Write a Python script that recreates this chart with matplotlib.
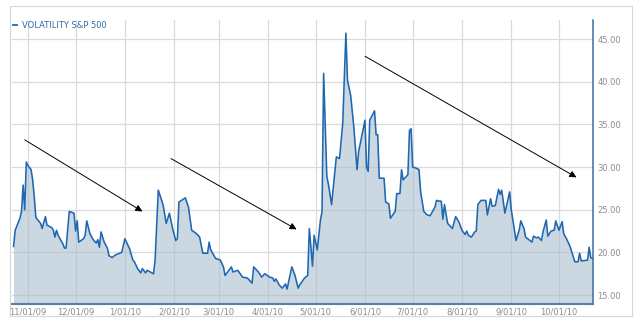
import matplotlib
matplotlib.use("Agg")
import matplotlib.pyplot as plt
import matplotlib.dates as mdates
from matplotlib.lines import Line2D
from matplotlib.patches import Rectangle
import pandas as pd

# VIX closes (approx)
dates = ['2009-10-23', '2009-10-24', '2009-10-27', '2009-10-28', '2009-10-29', '2009-10-30',
         '2009-10-31', '2009-11-01', '2009-11-03', '2009-11-04', '2009-11-05', '2009-11-06',
         '2009-11-09', '2009-11-10', '2009-11-12', '2009-11-13', '2009-11-16', '2009-11-17',
         '2009-11-18', '2009-11-19', '2009-11-20', '2009-11-23', '2009-11-24', '2009-11-25',
         '2009-11-27', '2009-11-30', '2009-12-01', '2009-12-02', '2009-12-03', '2009-12-06',
         '2009-12-07', '2009-12-08', '2009-12-10', '2009-12-12', '2009-12-14', '2009-12-15',
         '2009-12-16', '2009-12-17', '2009-12-19', '2009-12-21', '2009-12-22', '2009-12-24',
         '2009-12-26', '2009-12-30', '2010-01-01', '2010-01-04', '2010-01-06', '2010-01-07',
         '2010-01-09', '2010-01-11', '2010-01-12', '2010-01-14', '2010-01-15', '2010-01-17',
         '2010-01-19', '2010-01-20', '2010-01-22', '2010-01-25', '2010-01-27', '2010-01-29',
         '2010-01-31', '2010-02-02', '2010-02-03', '2010-02-04', '2010-02-08', '2010-02-10',
         '2010-02-12', '2010-02-15', '2010-02-17', '2010-02-19', '2010-02-22', '2010-02-23',
         '2010-02-24', '2010-02-27', '2010-03-02', '2010-03-04', '2010-03-05', '2010-03-09',
         '2010-03-10', '2010-03-13', '2010-03-16', '2010-03-19', '2010-03-22', '2010-03-23',
         '2010-03-26', '2010-03-28', '2010-03-30', '2010-04-02', '2010-04-04', '2010-04-05',
         '2010-04-06', '2010-04-08', '2010-04-10', '2010-04-12', '2010-04-13', '2010-04-16',
         '2010-04-18', '2010-04-20', '2010-04-21', '2010-04-24', '2010-04-26', '2010-04-27',
         '2010-04-29', '2010-04-30', '2010-05-02', '2010-05-04', '2010-05-05', '2010-05-06',
         '2010-05-08', '2010-05-09', '2010-05-11', '2010-05-14', '2010-05-16', '2010-05-18',
         '2010-05-20', '2010-05-21', '2010-05-23', '2010-05-25', '2010-05-27', '2010-05-28',
         '2010-06-01', '2010-06-02', '2010-06-03', '2010-06-04', '2010-06-07', '2010-06-08',
         '2010-06-09', '2010-06-10', '2010-06-13', '2010-06-14', '2010-06-16', '2010-06-17',
         '2010-06-20', '2010-06-21', '2010-06-23', '2010-06-24', '2010-06-25', '2010-06-28',
         '2010-06-29', '2010-06-30', '2010-07-01', '2010-07-03', '2010-07-05', '2010-07-06',
         '2010-07-08', '2010-07-10', '2010-07-12', '2010-07-15', '2010-07-16', '2010-07-18',
         '2010-07-19', '2010-07-20', '2010-07-21', '2010-07-23', '2010-07-26', '2010-07-28',
         '2010-07-30', '2010-08-01', '2010-08-03', '2010-08-04', '2010-08-05', '2010-08-07',
         '2010-08-09', '2010-08-10', '2010-08-11', '2010-08-13', '2010-08-16', '2010-08-17',
         '2010-08-19', '2010-08-20', '2010-08-22', '2010-08-24', '2010-08-25', '2010-08-26',
         '2010-08-28', '2010-08-31', '2010-09-01', '2010-09-04', '2010-09-06', '2010-09-07',
         '2010-09-09', '2010-09-10', '2010-09-14', '2010-09-15', '2010-09-17', '2010-09-18',
         '2010-09-20', '2010-09-21', '2010-09-23', '2010-09-24', '2010-09-26', '2010-09-28',
         '2010-09-29', '2010-10-01', '2010-10-03', '2010-10-04', '2010-10-06', '2010-10-08',
         '2010-10-11', '2010-10-13', '2010-10-14', '2010-10-15', '2010-10-19', '2010-10-20',
         '2010-10-21', '2010-10-22']
vix = [20.7, 22.6, 24.0, 24.8, 27.9, 25.0,
       30.6, 30.2, 29.7, 28.5, 26.5, 24.1,
       23.4, 22.8, 24.2, 23.2, 22.9, 22.6,
       21.8, 22.6, 22.0, 21.0, 20.5, 20.5,
       24.8, 24.6, 22.5, 23.7, 21.2, 21.6,
       22.0, 23.7, 22.2, 21.5, 21.1, 21.5,
       20.6, 22.4, 21.2, 20.5, 19.6, 19.4,
       19.7, 20.0, 21.6, 20.4, 19.1, 18.9,
       18.1, 17.6, 18.1, 17.6, 17.9, 17.7,
       17.5, 19.1, 27.3, 25.6, 23.4, 24.6,
       22.8, 21.4, 21.6, 25.9, 26.4, 25.3,
       22.6, 22.2, 21.8, 19.9, 19.9, 21.2,
       20.3, 19.3, 19.1, 18.3, 17.3, 18.3,
       17.7, 17.9, 17.1, 17.0, 16.4, 18.3,
       17.7, 17.1, 17.5, 17.1, 17.0, 16.6,
       16.9, 16.2, 15.8, 16.3, 15.7, 18.3,
       17.3, 15.8, 16.2, 17.0, 17.3, 22.8,
       18.4, 22.0, 20.3, 23.8, 24.8, 41.0,
       28.9, 28.0, 25.6, 31.2, 31.0, 35.1,
       45.7, 40.2, 38.4, 34.7, 29.7, 31.8,
       35.5, 30.0, 29.5, 35.5, 36.6, 33.8,
       33.8, 28.7, 28.7, 25.9, 25.7, 24.0,
       24.8, 26.9, 26.9, 29.7, 28.5, 29.1,
       34.3, 34.5, 30.0, 29.9, 29.7, 27.1,
       24.8, 24.4, 24.3, 25.3, 26.1, 26.0,
       26.0, 23.9, 25.6, 23.4, 22.8, 24.2,
       23.6, 22.6, 22.1, 22.5, 22.0, 21.8,
       22.4, 22.5, 25.6, 26.1, 26.1, 24.4,
       26.3, 25.4, 25.5, 27.4, 26.8, 27.3,
       24.6, 27.1, 25.0, 21.4, 22.6, 23.7,
       22.8, 21.8, 21.2, 21.9, 21.7, 21.8,
       21.4, 22.4, 23.8, 21.9, 22.5, 22.6,
       23.7, 22.6, 23.6, 22.2, 21.5, 20.7,
       18.9, 18.9, 19.9, 19.0, 19.1, 20.6,
       19.4, 19.3]

# trend arrows drawn on the chart: (start date, start value, end date, end value)
arrow_starts = [('2009-10-30', 33.2), ('2010-01-30', 31.0), ('2010-06-01', 43.0)]
arrow_ends = [('2010-01-12', 24.8), ('2010-04-19', 22.7), ('2010-10-12', 28.8)]

month_ticks = pd.date_range('2009-11-01', '2010-10-01', freq='MS')
value_ticks = [15, 20, 25, 30, 35, 40, 45]

x = pd.to_datetime(dates)

W, H = 641, 326
fig = plt.figure(figsize=(W / 100, H / 100), dpi=100)
fig.patch.set_facecolor('white')

# light outer frame
fig.patches.append(Rectangle((9.5 / W, 1 - 316 / H), 622.5 / W, 310 / H,
                             transform=fig.transFigure, fill=False,
                             edgecolor='#d6d6d6', lw=0.8))

ax = fig.add_axes([12 / W, 1 - 304 / H, 581 / W, 284 / H])

ax.fill_between(x, vix, 13.0, color='#a9bfcd', alpha=0.6, lw=0, zorder=2)
ax.plot(x, vix, color='#1f67b1', lw=1.15, zorder=3)

for (d0, v0), (d1, v1) in zip(arrow_starts, arrow_ends):
    ax.annotate('', xy=(pd.Timestamp(d1), v1), xytext=(pd.Timestamp(d0), v0),
                arrowprops=dict(arrowstyle='-|>', color='black', lw=0.7,
                                mutation_scale=10, shrinkA=0, shrinkB=0),
                zorder=4)

ax.set_xlim(pd.Timestamp('2009-10-22'), pd.Timestamp('2010-10-22 10:00'))
ax.set_ylim(13.95, 47.25)

ax.set_xticks(month_ticks)
ax.set_xticklabels([f"{d.month}/{d:%d/%y}" for d in month_ticks])
ax.set_yticks(value_ticks)
ax.set_yticklabels([f"{v:.2f}" for v in value_ticks])
ax.yaxis.tick_right()
ax.tick_params(axis='both', length=0, labelsize=6, labelcolor='#8c8c8c')
ax.tick_params(axis='x', pad=2.5)
ax.tick_params(axis='y', pad=3)

ax.grid(True, color='#dadada', lw=0.9, zorder=1)
ax.set_axisbelow(True)

for side in ['left', 'top']:
    ax.spines[side].set_visible(False)
ax.spines['right'].set_color('#3a6ea8')
ax.spines['right'].set_linewidth(1.1)
ax.spines['bottom'].set_color('#5a7da6')
ax.spines['bottom'].set_linewidth(1.5)

# legend at top left
fig.lines.append(Line2D([13 / W, 17 / W], [1 - 24.5 / H, 1 - 24.5 / H],
                        transform=fig.transFigure, color='#1f67b1', lw=1.3))
fig.text(22 / W, 1 - 25 / H, 'VOLATILITY S&P 500', fontsize=6, color='#2a6db0',
         va='center', ha='left')

fig.savefig('out.png', dpi=100)
